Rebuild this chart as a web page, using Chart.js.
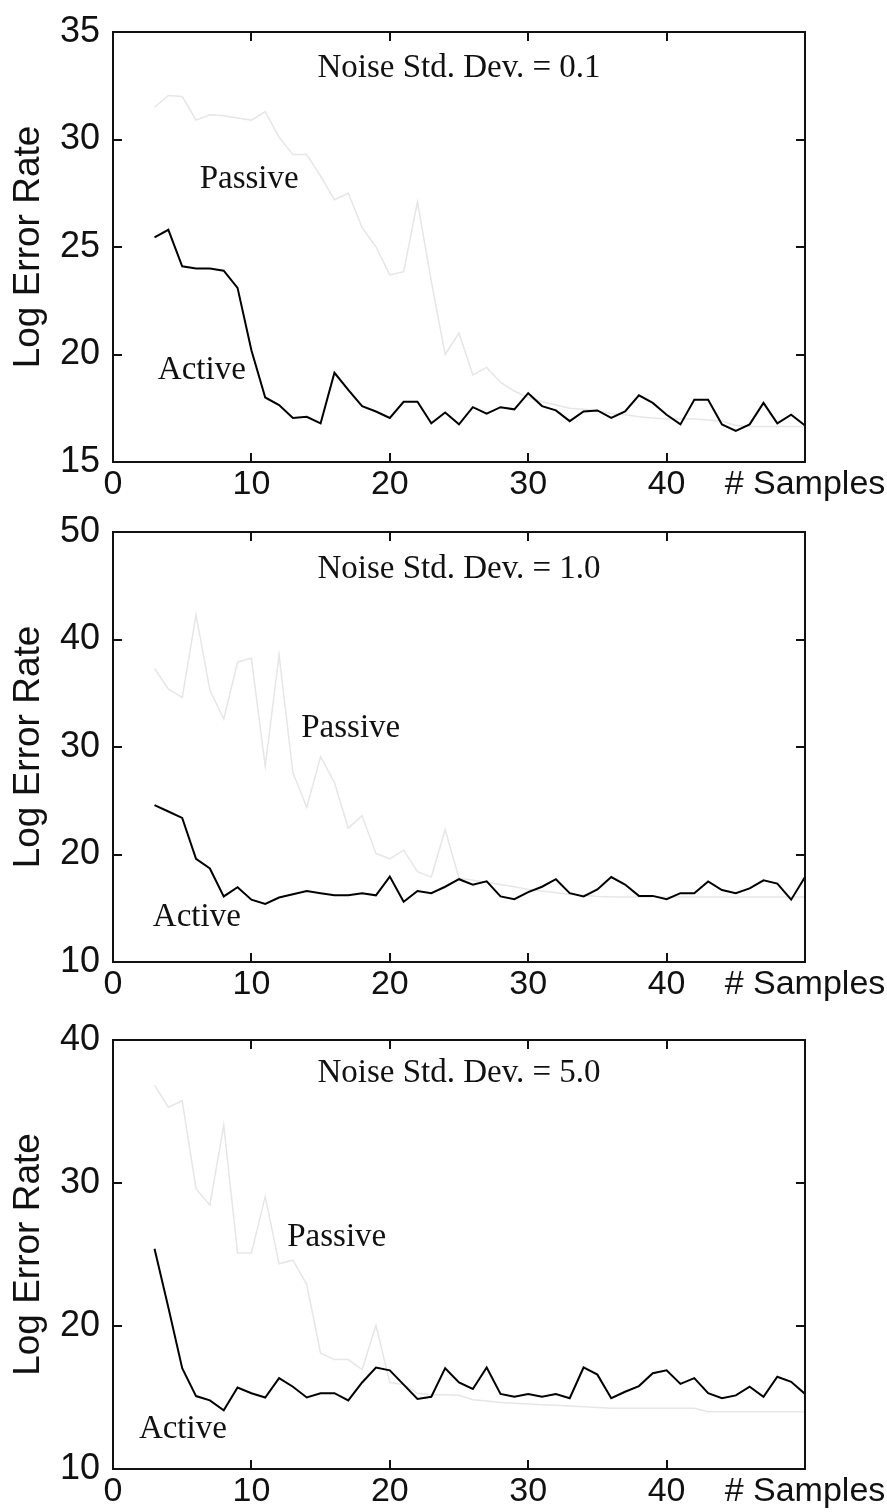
<!DOCTYPE html>
<html>
<head>
<meta charset="utf-8">
<script src="https://cdn.jsdelivr.net/npm/chart.js@4.4.1/dist/chart.umd.min.js"></script>
<style>
  html, body { margin: 0; padding: 0; background: #fff; }
  body { width: 887px; height: 1512px; position: relative; overflow: hidden; }
  canvas { position: absolute; left: 0; }
</style>
</head>
<body>
<canvas id="c1" width="887" height="504" style="top:0px"></canvas>
<canvas id="c2" width="887" height="504" style="top:500px"></canvas>
<canvas id="c3" width="887" height="504" style="top:1008px"></canvas>
<script>
// ---- data ----
const samples = [3,4,5,6,7,8,9,10,11,12,13,14,15,16,17,18,19,20,21,22,23,24,25,26,27,28,29,30,31,32,33,34,35,36,37,38,39,40,41,42,43,44,45,46,47,48,49,50];

const passive01 = [31.5,32.05,32.0,30.9,31.15,31.1,31.0,30.9,31.3,30.1,29.3,29.3,28.3,27.2,27.5,25.9,25.0,23.7,23.85,27.1,23.4,20.0,21.0,19.05,19.4,18.7,18.3,18.0,17.8,17.65,17.5,17.45,17.4,17.25,17.2,17.1,17.05,17.0,17.0,17.0,16.95,16.9,16.7,16.65,16.65,16.65,16.65,16.65];
const active01  = [25.45,25.8,24.1,24.0,24.0,23.9,23.1,20.2,18.0,17.65,17.05,17.1,16.8,19.15,18.35,17.6,17.35,17.05,17.8,17.8,16.8,17.3,16.75,17.55,17.25,17.55,17.45,18.2,17.6,17.4,16.9,17.35,17.4,17.05,17.35,18.1,17.75,17.2,16.75,17.9,17.9,16.75,16.45,16.75,17.75,16.8,17.2,16.7];

const passive10 = [37.3,35.4,34.6,42.3,35.3,32.6,37.9,38.25,28.2,38.55,27.6,24.4,29.1,26.7,22.45,23.6,20.1,19.6,20.4,18.4,17.9,22.3,17.8,17.6,17.4,17.2,17.0,16.75,16.6,16.45,16.3,16.2,16.1,16.05,16.05,16.05,16.05,16.05,16.05,16.05,16.05,16.05,16.05,16.05,16.05,16.05,16.05,16.05];
const active10  = [24.6,24.0,23.4,19.6,18.7,16.1,16.95,15.8,15.4,16.0,16.3,16.6,16.4,16.2,16.2,16.4,16.2,17.95,15.6,16.6,16.4,17.0,17.7,17.2,17.5,16.1,15.85,16.5,17.0,17.7,16.4,16.1,16.75,17.9,17.2,16.15,16.15,15.85,16.4,16.4,17.5,16.7,16.4,16.85,17.6,17.3,15.8,17.9];

const passive50 = [36.85,35.3,35.75,29.6,28.45,34.05,25.1,25.1,29.05,24.35,24.6,22.9,18.1,17.65,17.65,16.95,20.05,16.05,15.9,15.3,15.2,15.2,15.15,14.85,14.75,14.65,14.6,14.55,14.5,14.45,14.4,14.35,14.3,14.25,14.25,14.25,14.25,14.25,14.25,14.25,14.0,14.0,14.0,14.0,14.0,14.0,14.0,14.0];
const active50  = [25.4,21.3,17.05,15.1,14.8,14.1,15.7,15.3,15.0,16.35,15.75,15.0,15.3,15.3,14.8,16.05,17.1,16.9,15.9,14.9,15.05,17.05,16.05,15.6,17.1,15.25,15.05,15.25,15.05,15.25,14.95,17.1,16.6,14.95,15.4,15.8,16.7,16.9,15.95,16.35,15.3,14.95,15.15,15.75,15.05,16.45,16.1,15.25];

const xTickLabels = {0: '0', 10: '10', 20: '20', 30: '30', 40: '40', 50: '# Samples'};
const titles = ['Noise Std. Dev. = 0.1', 'Noise Std. Dev. = 1.0', 'Noise Std. Dev. = 5.0'];
const yRanges = [[15, 35, 5], [10, 50, 10], [10, 40, 10]];
// annotation anchors in data units: [x, y] (left/center, baseline)
const titleAnchors   = [[25.0, 32.9], [25.0, 45.7], [25.0, 37.06]];
const passiveAnchors = [[6.26, 27.74], [13.6, 30.93], [12.59, 25.6]];
const activeAnchors  = [[3.24, 18.86], [2.88, 13.35], [1.87, 12.17]];

// ---- plugins ----
const frameTicks = {
  id: 'frameTicks',
  afterDatasetsDraw(chart) {
    const {ctx, chartArea: a, scales: {x, y}} = chart;
    ctx.save();
    ctx.strokeStyle = '#111';
    ctx.lineWidth = 2;
    ctx.strokeRect(a.left, a.top, a.right - a.left, a.bottom - a.top);
    ctx.beginPath();
    const L = 9;
    x.ticks.forEach(t => {
      if (t.value <= x.min || t.value >= x.max) return;
      const p = Math.round(x.getPixelForValue(t.value));
      ctx.moveTo(p, a.bottom); ctx.lineTo(p, a.bottom - L);
      ctx.moveTo(p, a.top); ctx.lineTo(p, a.top + L);
    });
    y.ticks.forEach(t => {
      if (t.value <= y.min || t.value >= y.max) return;
      const p = Math.round(y.getPixelForValue(t.value));
      ctx.moveTo(a.left, p); ctx.lineTo(a.left + L, p);
      ctx.moveTo(a.right, p); ctx.lineTo(a.right - L, p);
    });
    ctx.stroke();
    ctx.restore();
  }
};

const annotations = {
  id: 'annotations',
  afterDraw(chart, args, opts) {
    const {ctx, scales: {x, y}} = chart;
    ctx.save();
    ctx.fillStyle = '#111';
    ctx.textBaseline = 'alphabetic';
    opts.items.forEach(it => {
      ctx.font = it.font;
      ctx.textAlign = it.align;
      ctx.fillText(it.text, x.getPixelForValue(it.at[0]), y.getPixelForValue(it.at[1]));
    });
    ctx.restore();
  }
};

function makeChart(id, idx, passive, active, xAxisHeight) {
  const [ymin, ymax, ystep] = yRanges[idx];
  const serif = '33px "Liberation Serif", "Times New Roman", serif';
  return new Chart(document.getElementById(id), {
    type: 'line',
    data: {
      datasets: [
        {
          label: 'Active',
          data: samples.map((s, i) => ({x: s, y: active[i]})),
          borderColor: '#000',
          borderWidth: 2,
          pointRadius: 0,
          tension: 0,
          fill: false
        },
        {
          label: 'Passive',
          data: samples.map((s, i) => ({x: s, y: passive[i]})),
          borderColor: '#e6e6e6',
          borderWidth: 1.5,
          pointRadius: 0,
          tension: 0,
          fill: false
        }
      ]
    },
    options: {
      responsive: false,
      animation: false,
      devicePixelRatio: 1,
      layout: { padding: { top: 32, right: 82, left: 0, bottom: 0 } },
      plugins: {
        legend: { display: false },
        tooltip: { enabled: false },
        annotations: {
          items: [
            { text: titles[idx], at: titleAnchors[idx], align: 'center', font: serif },
            { text: 'Passive', at: passiveAnchors[idx], align: 'left', font: serif },
            { text: 'Active', at: activeAnchors[idx], align: 'left', font: serif }
          ]
        }
      },
      scales: {
        x: {
          type: 'linear',
          min: 0, max: 50,
          grid: { display: false, drawTicks: false },
          border: { display: false },
          ticks: {
            stepSize: 10,
            autoSkip: false,
            maxRotation: 0, minRotation: 0,
            padding: 6,
            color: '#111',
            font: { family: '"Liberation Sans", Arial, sans-serif', size: 34, lineHeight: 1 },
            callback: v => xTickLabels[v] !== undefined ? xTickLabels[v] : ''
          },
          afterFit(s) { s.height = xAxisHeight; s.paddingLeft = 0; s.paddingRight = 0; }
        },
        y: {
          min: ymin, max: ymax,
          grid: { display: false, drawTicks: false },
          border: { display: false },
          ticks: {
            stepSize: ystep,
            autoSkip: false,
            padding: 13,
            color: '#111',
            font: { family: '"Liberation Sans", Arial, sans-serif', size: 36, lineHeight: 1 }
          },
          title: {
            display: true,
            text: 'Log Error Rate',
            color: '#111',
            padding: { top: 10, bottom: 0 },
            font: { family: '"Liberation Sans", Arial, sans-serif', size: 37, lineHeight: 1 }
          },
          afterFit(s) { s.width = 113; s.paddingTop = 0; s.paddingBottom = 0; }
        }
      }
    },
    plugins: [frameTicks, annotations]
  });
}

makeChart('c1', 0, passive01, active01, 42);
makeChart('c2', 1, passive10, active10, 42);
makeChart('c3', 2, passive50, active50, 43);
</script>
</body>
</html>
